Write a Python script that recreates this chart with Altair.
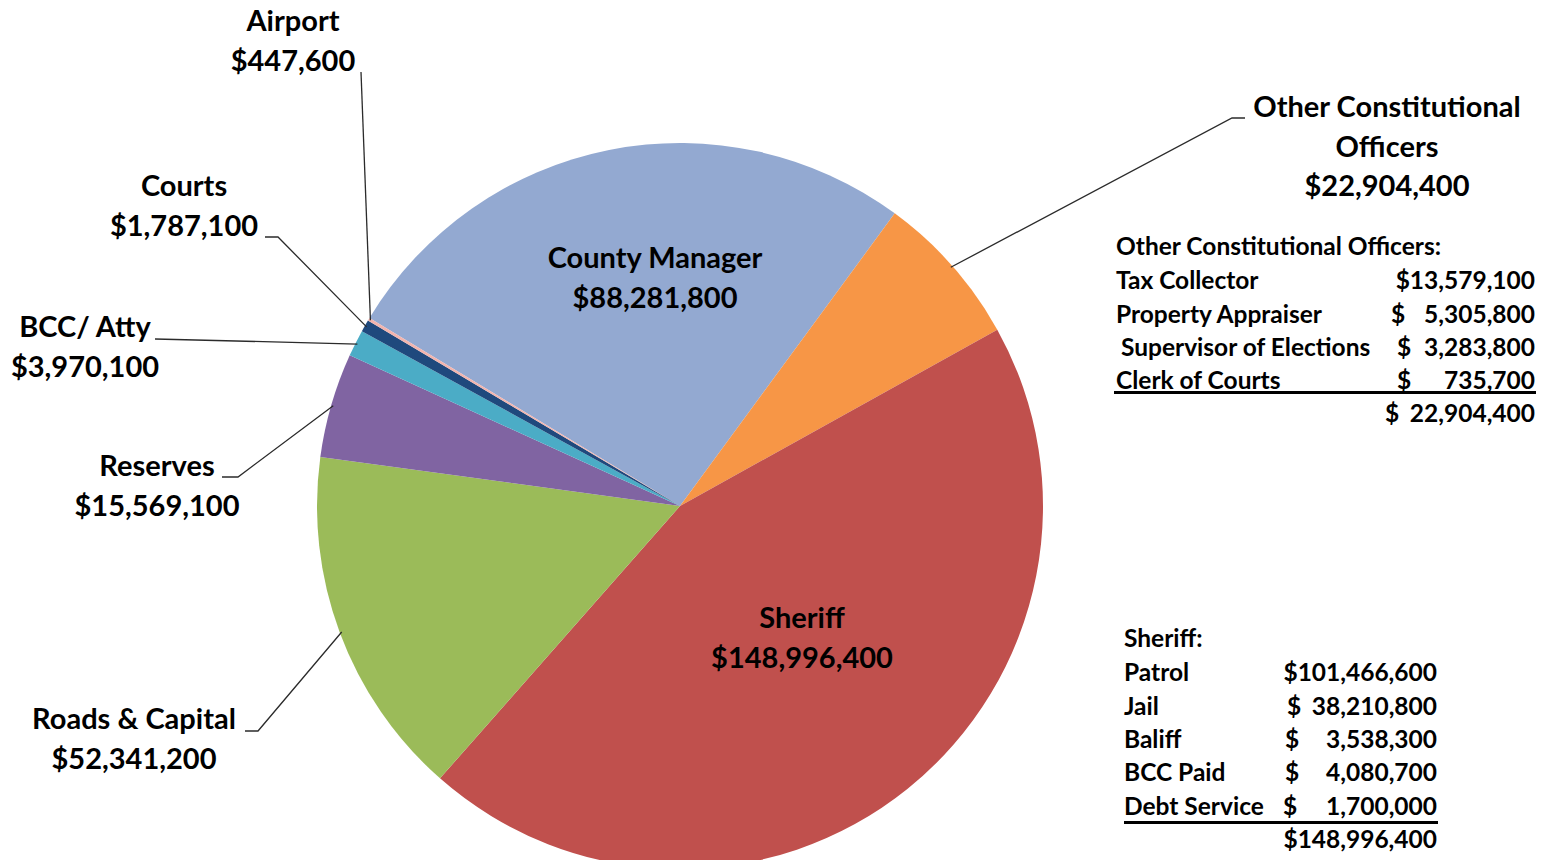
import math
import altair as alt
import pandas as pd

# ---------------- data ----------------
names = ["County Manager", "Other Constitutional Officers", "Sheriff", "Roads & Capital",
         "Reserves", "BCC/ Atty", "Courts", "Airport"]
values = [88281800, 22904400, 148996400, 52341200, 15569100, 3970100, 1787100, 447600]
colors = ["#93A9D1", "#F79646", "#C0504D", "#9BBB59", "#8064A2", "#4BACC6", "#1F497D", "#F2B4AE"]

oco_items = ["Tax Collector", "Property Appraiser", "Supervisor of Elections", "Clerk of Courts"]
oco_values = [13579100, 5305800, 3283800, 735700]
oco_total = 22904400

sheriff_items = ["Patrol", "Jail", "Baliff", "BCC Paid", "Debt Service"]
sheriff_values = [101466600, 38210800, 3538300, 4080700, 1700000]
sheriff_total = 148996400

# ---------------- layout ----------------
W, H, M = 1533, 852, 8
CX, CY, R = 680, 506, 363
START_DEG = 301.2
FONT = "Lato"
LABEL_SIZE = 29
TABLE_SIZE = 24.5
LINE_GAP = 39.5
TEXT_COLOR = "#000000"

label_pos = {
    "Airport": (293, 22),
    "Courts": (184, 187),
    "BCC/ Atty": (85, 328),
    "Reserves": (157, 467),
    "Roads & Capital": (134, 720),
    "Other Constitutional Officers": (1387, 108),
    "County Manager": (655, 259),
    "Sheriff": (802, 619),
}
label_lines_override = {"Other Constitutional Officers": ["Other Constitutional", "Officers"]}

leaders = {
    "Airport": [(361, 72)],
    "Courts": [(265, 237), (278, 237)],
    "BCC/ Atty": [(155, 339)],
    "Reserves": [(222, 477), (238, 477)],
    "Roads & Capital": [(245, 731), (258, 731)],
    "Other Constitutional Officers": [(1245, 118), (1232, 118)],
}
ANCHOR_R = 361

tables = [
    dict(title="Other Constitutional Officers:", items=oco_items, vals=oco_values, total=oco_total,
         name_x=[1116, 1116, 1121, 1116], right_x=1535, title_y=248,
         row_y=[282, 316, 349, 382], total_y=415,
         dollar_x=[None, 1391, 1397, 1397], total_dollar_x=1385,
         rule=(1114, 1536, 392.5)),
    dict(title="Sheriff:", items=sheriff_items, vals=sheriff_values, total=sheriff_total,
         name_x=[1124] * 5, right_x=1437, title_y=640,
         row_y=[674, 708, 741, 774, 808], total_y=841,
         dollar_x=[None, 1287, 1285, 1285, 1283], total_dollar_x=None,
         rule=(1124, 1438, 822.5)),
]


def money(v):
    return "${:,.0f}".format(v)


# ---------------- tables built from the arrays ----------------
pie_df = pd.DataFrame({"name": names, "value": values, "idx": list(range(len(names)))})

total = sum(values)
mid_angle = {}
cum = 0.0
for n, v in zip(names, values):
    mid = START_DEG + (cum + v / 2) / total * 360.0
    mid_angle[n] = math.radians(mid)
    cum += v

# leader lines: label-side points + anchor at slice's mid angle on the rim
lead_rows = []
for n, pts in leaders.items():
    seq = 0
    for (px, py) in pts:
        lead_rows.append({"key": n, "seq": seq, "x": px, "y": py})
        seq += 1
    a = mid_angle[n]
    lead_rows.append({"key": n, "seq": seq,
                      "x": CX + ANCHOR_R * math.sin(a), "y": CY - ANCHOR_R * math.cos(a)})
lead_df = pd.DataFrame(lead_rows)

# slice labels
lab_rows = []
for n, v in zip(names, values):
    x0, y0 = label_pos[n]
    lines = label_lines_override.get(n, [n]) + [money(v)]
    for i, t in enumerate(lines):
        lab_rows.append({"x": x0, "y": y0 + i * LINE_GAP, "t": t})
lab_df = pd.DataFrame(lab_rows)

# breakdown tables
left_rows, right_rows, dollar_rows, rule_rows = [], [], [], []
for tb in tables:
    left_rows.append({"x": tb["name_x"][0], "y": tb["title_y"], "t": tb["title"]})
    for i, (it, v) in enumerate(zip(tb["items"], tb["vals"])):
        left_rows.append({"x": tb["name_x"][i], "y": tb["row_y"][i], "t": it})
        dx = tb["dollar_x"][i]
        if dx is None:
            right_rows.append({"x": tb["right_x"], "y": tb["row_y"][i], "t": money(v)})
        else:
            right_rows.append({"x": tb["right_x"], "y": tb["row_y"][i], "t": "{:,.0f}".format(v)})
            dollar_rows.append({"x": dx, "y": tb["row_y"][i], "t": "$"})
    if tb["total_dollar_x"] is None:
        right_rows.append({"x": tb["right_x"], "y": tb["total_y"], "t": money(tb["total"])})
    else:
        right_rows.append({"x": tb["right_x"], "y": tb["total_y"], "t": "{:,.0f}".format(tb["total"])})
        dollar_rows.append({"x": tb["total_dollar_x"], "y": tb["total_y"], "t": "$"})
    x1, x2, ry = tb["rule"]
    rule_rows.append({"x": x1, "x2": x2, "y": ry})

left_df = pd.DataFrame(left_rows)
right_df = pd.DataFrame(right_rows)
dollar_df = pd.DataFrame(dollar_rows)
rule_df = pd.DataFrame(rule_rows)

# ---------------- chart ----------------
XS = alt.Scale(domain=[M, M + W], range=[0, W], nice=False, zero=False)
YS = alt.Scale(domain=[M, M + H], range=[0, H], nice=False, zero=False)
ex = alt.X("x:Q", scale=XS, axis=None)
ey = alt.Y("y:Q", scale=YS, axis=None)

a0 = math.radians(START_DEG)
pie = alt.Chart(pie_df).mark_arc(stroke=None).encode(
    theta=alt.Theta("value:Q", stack=True, scale=alt.Scale(range=[a0, a0 + 2 * math.pi])),
    color=alt.Color("name:N", scale=alt.Scale(domain=names, range=colors), legend=None),
    order=alt.Order("idx:Q", sort="ascending"),
    x=alt.value(CX - M),
    y=alt.value(CY - M),
    radius=alt.value(R),
)

lead = alt.Chart(lead_df).mark_line(color="#2b2b2b", strokeWidth=1.3).encode(
    x=ex, y=ey, detail="key:N", order="seq:Q"
)

labels = alt.Chart(lab_df).mark_text(
    font=FONT, fontSize=LABEL_SIZE, fontWeight="bold", align="center", baseline="middle", color=TEXT_COLOR
).encode(x=ex, y=ey, text="t:N")

left_txt = alt.Chart(left_df).mark_text(
    font=FONT, fontSize=TABLE_SIZE, fontWeight="bold", align="left", baseline="middle", color=TEXT_COLOR
).encode(x=ex, y=ey, text="t:N")

right_txt = alt.Chart(right_df).mark_text(
    font=FONT, fontSize=TABLE_SIZE, fontWeight="bold", align="right", baseline="middle", color=TEXT_COLOR
).encode(x=ex, y=ey, text="t:N")

dollar_txt = alt.Chart(dollar_df).mark_text(
    font=FONT, fontSize=TABLE_SIZE, fontWeight="bold", align="left", baseline="middle", color=TEXT_COLOR
).encode(x=ex, y=ey, text="t:N")

rules = alt.Chart(rule_df).mark_rule(color="#000000", strokeWidth=3).encode(
    x=ex, x2="x2:Q", y=ey
)

chart = alt.layer(pie, lead, labels, left_txt, right_txt, dollar_txt, rules).properties(
    width=W, height=H, padding=0, background="white",
    autosize=alt.AutoSizeParams(type="none"),
).configure_view(stroke=None)

chart.save("out.html", embed_options={"renderer": "svg", "actions": False})
